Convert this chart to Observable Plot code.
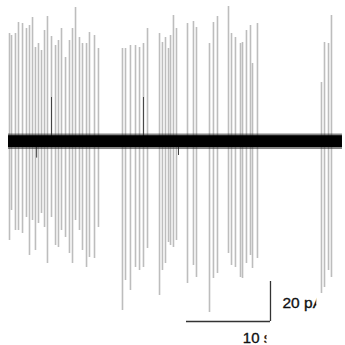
<!DOCTYPE html>
<html>
<head>
<meta charset="utf-8">
<script src="https://cdn.jsdelivr.net/npm/d3@7"></script>
<script src="https://cdn.jsdelivr.net/npm/@observablehq/plot@0.6"></script>
<style>
  html, body { margin: 0; padding: 0; background: #fff; }
  #chart { width: 345px; height: 345px; }
</style>
</head>
<body>
<div id="chart"></div>
<script>
// Spike times (s), peak amplitudes (pA, outward/up) and trough amplitudes (pA, inward/down)
const spikeTimes = [0.12,0.36,0.83,1.19,1.67,2.14,2.50,2.86,3.21,3.57,3.93,4.29,4.64,5.12,5.60,5.95,6.31,6.79,7.26,7.62,7.98,8.45,8.81,9.29,9.64,10.24,10.71,
  13.57,13.93,14.52,15.12,15.60,16.07,16.55,17.98,18.33,18.69,19.05,19.29,19.64,20.00,21.31,22.02,22.38,23.93,24.40,24.88,
  26.19,26.55,27.02,27.62,27.86,28.33,28.81,29.05,29.64,37.26,37.62,38.10,38.45];
const spikeTops = [54,53,54,59.5,59,56.5,58,62,47,49,45.5,55.5,62.5,52.5,48,50.5,56.5,42,50.5,56.5,67,52,49,49,54.5,53,46.5,
  46.5,46.5,48,48,47,49,56.5,54,49.5,52,46.5,53,63,56.5,59,60,57,49,59.5,62.5,
  67.5,54,52,49,49.5,55.5,58,39,59,29.5,49.5,49,63];
const spikeBottoms = [-49.5,-34.5,-44.5,-44.5,-46,-38,-57,-39.5,-54.5,-41,-36,-43,-61,-38,-52,-53,-44.5,-48,-56,-61,-39.5,-44.5,-54.5,-63,-58,-58.5,-43,
  -84.5,-69.5,-74.5,-63,-64.5,-63,-53.5,-77,-64.5,-61,-50.5,-52,-53,-49.5,-71,-62,-68,-85.5,-68.5,-66,
  -56,-62,-63,-68,-68.5,-61,-57,-63.5,-58.5,-76,-73,-64.5,-68];

// Baseline recording extent (s) and noise band (pA): dense core and fuzzy outer edge
const traceStart = 0;
const traceEnd = 39.76;
const coreLow = -3.0;
const coreHigh = 2.9;
const edgeLow = -4.0;
const edgeHigh = 3.8;

// Small visible transients on the baseline
const transientTimes = [5.12, 16.07, 3.35, 20.24];
const transientPeaks = [22, 22, -8.3, -7];

// Scale bar: 10 s horizontally, 20 pA vertically
const barTime = [21.19, 31.19];
const barAmp = [-90, -70];
const barLabels = ["20 pA", "10 s"];

const spikes = spikeTimes.map((t, i) => ({t, top: spikeTops[i], bottom: spikeBottoms[i]}));
const transients = transientTimes.map((t, i) => ({t, v: transientPeaks[i]}));
const trace = [{t: traceStart}, {t: traceEnd}];

const plot = Plot.plot({
  width: 345,
  height: 345,
  margin: 0,
  x: {axis: null, domain: [-0.952, 40.12]},
  y: {axis: null, domain: [-102, 70.5]},
  style: {background: "#fff", fontFamily: "'Liberation Sans', Arial, sans-serif"},
  marks: [
    Plot.ruleX(spikes, {x: "t", y1: "bottom", y2: "top", stroke: "#bdbdbd", strokeWidth: 1.6}),
    Plot.ruleX(transients, {x: "t", y1: 0, y2: "v", stroke: "#444", strokeWidth: 1}),
    Plot.areaY(trace, {x: "t", y1: edgeLow, y2: edgeHigh, fill: "#222", fillOpacity: 0.55}),
    Plot.areaY(trace, {x: "t", y1: coreLow, y2: coreHigh, fill: "#000"}),
    Plot.ruleY([barAmp[0]], {x1: barTime[0], x2: barTime[1], stroke: "#333", strokeWidth: 1.3}),
    Plot.ruleX([barTime[1]], {y1: barAmp[0], y2: barAmp[1], stroke: "#333", strokeWidth: 1.3}),
    Plot.text([barLabels[0]], {x: 32.62, y: -83, text: d => d, textAnchor: "start", lineAnchor: "bottom", fontSize: 15.5, fill: "#111", stroke: "#111", strokeWidth: 0.35}),
    Plot.text([barLabels[1]], {x: 27.9, y: -100.5, text: d => d, textAnchor: "start", lineAnchor: "bottom", fontSize: 15, fill: "#111", stroke: "#111", strokeWidth: 0.35})
  ]
});

// The original figure is cropped at the labels' right edges
const ns = "http://www.w3.org/2000/svg";
const defs = document.createElementNS(ns, "defs");
const cp = document.createElementNS(ns, "clipPath");
cp.setAttribute("id", "labelclip");
[[0, 0, 316, 325], [0, 325, 266, 20]].forEach(([x, y, w, h]) => {
  const r = document.createElementNS(ns, "rect");
  r.setAttribute("x", x); r.setAttribute("y", y);
  r.setAttribute("width", w); r.setAttribute("height", h);
  cp.appendChild(r);
});
defs.appendChild(cp);
plot.insertBefore(defs, plot.firstChild);
plot.querySelectorAll('g[aria-label="text"]').forEach(g => g.setAttribute("clip-path", "url(#labelclip)"));

document.getElementById("chart").appendChild(plot);
</script>
</body>
</html>
